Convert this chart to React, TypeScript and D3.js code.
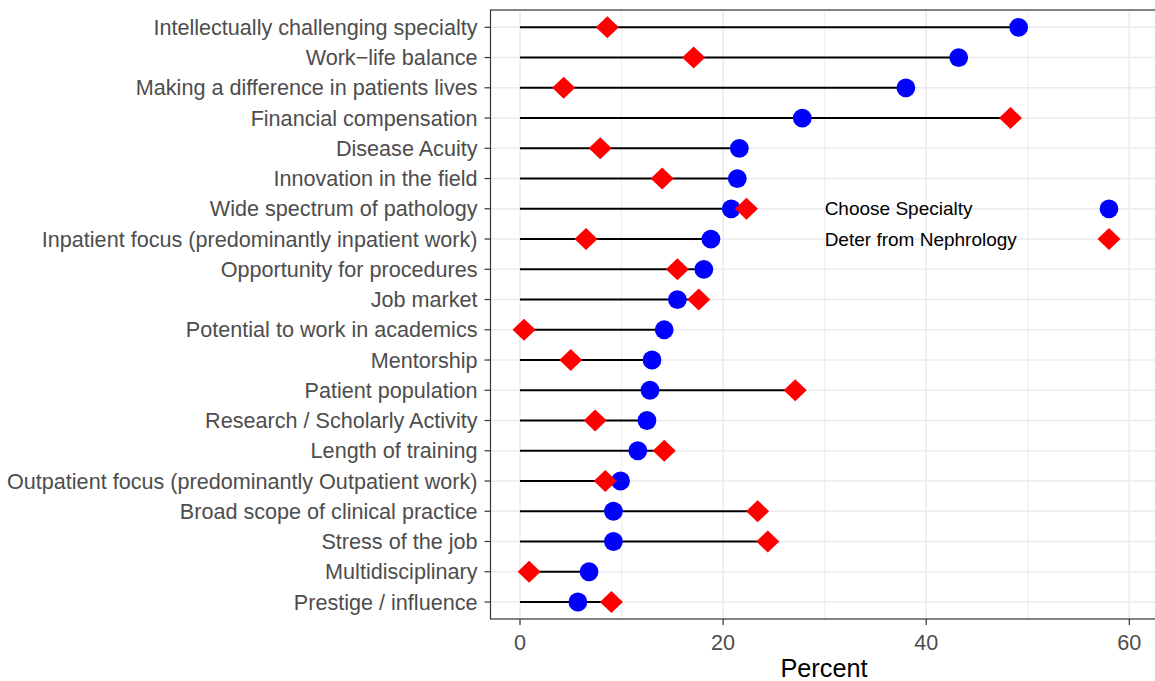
import React from "react";
import * as d3 from "d3";

const categories = [
  "Intellectually challenging specialty",
  "Work\u2212life balance",
  "Making a difference in patients lives",
  "Financial compensation",
  "Disease Acuity",
  "Innovation in the field",
  "Wide spectrum of pathology",
  "Inpatient focus (predominantly inpatient work)",
  "Opportunity for procedures",
  "Job market",
  "Potential to work in academics",
  "Mentorship",
  "Patient population",
  "Research / Scholarly Activity",
  "Length of training",
  "Outpatient focus (predominantly Outpatient work)",
  "Broad scope of clinical practice",
  "Stress of the job",
  "Multidisciplinary",
  "Prestige / influence",
];

const chooseSpecialty = [
  49.1, 43.2, 38.0, 27.8, 21.6, 21.4, 20.8, 18.8, 18.1, 15.5,
  14.2, 13.0, 12.8, 12.5, 11.6, 9.9, 9.2, 9.2, 6.8, 5.7,
];

const deterNephrology = [
  8.6, 17.1, 4.3, 48.3, 7.9, 14.0, 22.3, 6.5, 15.5, 17.6,
  0.4, 5.0, 27.1, 7.4, 14.2, 8.4, 23.4, 24.4, 0.9, 9.0,
];

const xTicks = [0, 20, 40, 60];
const xMinor = [10, 30, 50];
const legendLabels = ["Choose Specialty", "Deter from Nephrology"];
const legendTextX = 30;
const legendPointX = 58;
const xTitle = "Percent";

const W = 1155;
const H = 681;
const FONT = "'Liberation Sans', Arial, Helvetica, sans-serif";

export default function App() {
  const panel = { left: 490.5, top: 10, right: 1162, bottom: 619 };
  const x = d3.scaleLinear().domain([0, 60]).range([520, 1129.3]);
  const y = d3.scalePoint<string>().domain(categories).range([27.3, 602]);

  const diamondPath = (cx: number, cy: number) => {
    const hw = 11.5;
    const hh = 11;
    return `M${cx},${cy - hh}L${cx + hw},${cy}L${cx},${cy + hh}L${cx - hw},${cy}Z`;
  };

  return (
    <svg
      width={W}
      height={H}
      style={{ position: "fixed", left: 0, top: 0, background: "#fff" }}
      fontFamily={FONT}
    >
      <rect x={0} y={0} width={W} height={H} fill="#fff" />
      {xMinor.map((t) => (
        <line
          key={"mn" + t}
          x1={x(t)}
          x2={x(t)}
          y1={panel.top}
          y2={panel.bottom}
          stroke="#EBEBEB"
          strokeWidth={0.9}
        />
      ))}
      {xTicks.map((t) => (
        <line
          key={"mj" + t}
          x1={x(t)}
          x2={x(t)}
          y1={panel.top}
          y2={panel.bottom}
          stroke="#EBEBEB"
          strokeWidth={1.6}
        />
      ))}
      {categories.map((c) => (
        <line
          key={"hg" + c}
          x1={panel.left}
          x2={panel.right}
          y1={y(c)}
          y2={y(c)}
          stroke="#EBEBEB"
          strokeWidth={1.6}
        />
      ))}
      {categories.map((c, i) => (
        <line
          key={"seg" + c}
          x1={x(0)}
          x2={x(Math.max(chooseSpecialty[i], deterNephrology[i]))}
          y1={y(c)}
          y2={y(c)}
          stroke="#000"
          strokeWidth={2}
        />
      ))}
      {categories.map((c, i) => (
        <circle key={"c" + c} cx={x(chooseSpecialty[i])} cy={y(c)} r={9.4} fill="#0000FF" />
      ))}
      {categories.map((c, i) => (
        <path key={"d" + c} d={diamondPath(x(deterNephrology[i]), y(c)!)} fill="#FF0000" />
      ))}
      <text x={x(legendTextX)} y={y(categories[6])} dy="0.35em" fontSize={19} fill="#000">
        {legendLabels[0]}
      </text>
      <text x={x(legendTextX)} y={y(categories[7])} dy="0.35em" fontSize={19} fill="#000">
        {legendLabels[1]}
      </text>
      <circle cx={x(legendPointX)} cy={y(categories[6])} r={9.4} fill="#0000FF" />
      <path d={diamondPath(x(legendPointX), y(categories[7])!)} fill="#FF0000" />
      <rect
        x={panel.left}
        y={panel.top}
        width={panel.right - panel.left}
        height={panel.bottom - panel.top}
        fill="none"
        stroke="#333333"
        strokeWidth={1.2}
      />
      {categories.map((c) => (
        <g key={"yt" + c}>
          <line x1={panel.left - 6} x2={panel.left} y1={y(c)} y2={y(c)} stroke="#333333" strokeWidth={1.2} />
          <text
            x={panel.left - 13}
            y={y(c)}
            dy="0.35em"
            textAnchor="end"
            fontSize={21.6}
            fill="#4D4D4D"
          >
            {c}
          </text>
        </g>
      ))}
      {xTicks.map((t) => (
        <g key={"xt" + t}>
          <line x1={x(t)} x2={x(t)} y1={panel.bottom} y2={panel.bottom + 6} stroke="#333333" strokeWidth={1.2} />
          <text x={x(t)} y={panel.bottom + 23} dy="0.35em" textAnchor="middle" fontSize={21.6} fill="#4D4D4D">
            {t}
          </text>
        </g>
      ))}
      <text x={824} y={668} dy="0.35em" textAnchor="middle" fontSize={25.3} fill="#000">
        {xTitle}
      </text>
    </svg>
  );
}
